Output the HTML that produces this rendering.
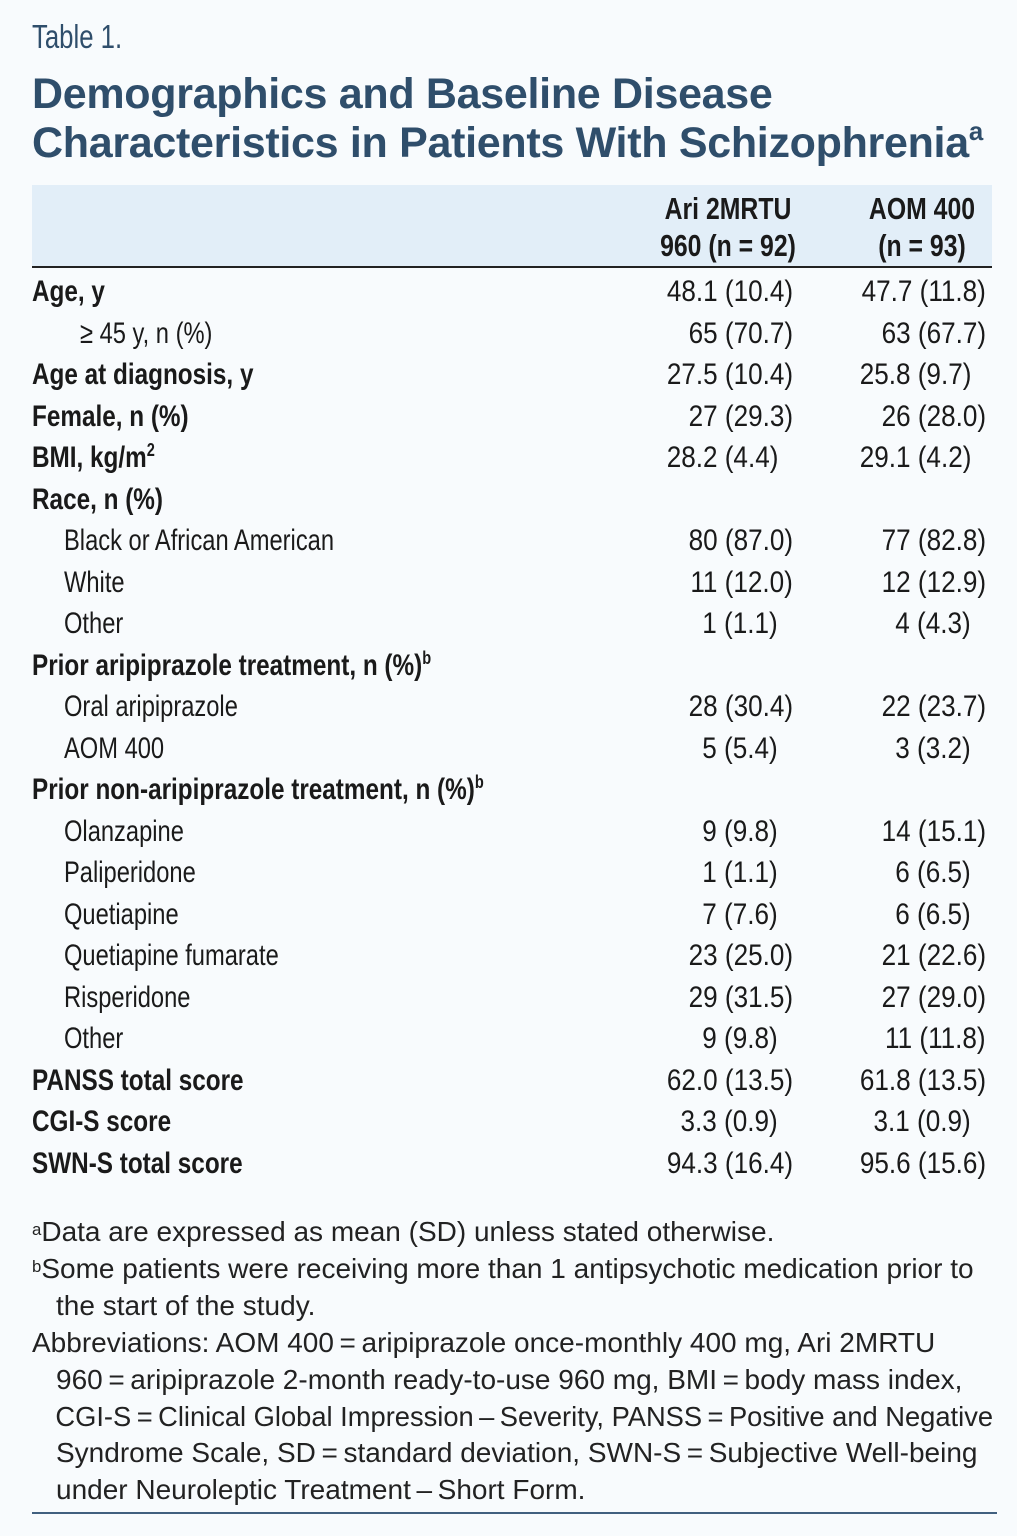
<!DOCTYPE html>
<html><head><meta charset="utf-8"><style>
body{margin:0;width:1017px;height:1536px;background:#f8fbfd;position:relative;overflow:hidden;font-family:"Liberation Sans Narrow","Liberation Sans",sans-serif;color:#1a1a1a}
.a{position:absolute;white-space:nowrap;line-height:1}
.t{font-size:33px;color:#2f4e6b;left:32px;top:20px;transform:scaleX(0.78);transform-origin:left}
.h{font-family:"Liberation Sans",sans-serif;font-weight:bold;font-size:43px;color:#2f4e6b;left:32px;letter-spacing:-0.3px}
.hd{position:absolute;left:32px;top:185px;width:960px;height:81px;background:#e2eef8;border-bottom:2px solid #222}
.ch{font-weight:bold;font-size:31px;text-align:center;width:200px;transform:scaleX(0.8);transform-origin:center}
.lb{font-size:30px;left:32px;font-weight:bold;transform:scaleX(0.81);transform-origin:left}
.in{font-size:30px;left:64px;transform:scaleX(0.79);transform-origin:left}
.v1{font-size:30px;text-align:right;transform:scaleX(0.87);transform-origin:right}
.fn{font-size:28px;color:#222}
.fl{transform-origin:left;white-space:nowrap}
sup{font-size:60%;vertical-align:top;position:relative;top:-2px}
</style></head><body>
<div class="a t">Table 1.</div>
<div class="a h" style="top:73px">Demographics and Baseline Disease</div>
<div class="a h" style="top:122px">Characteristics in Patients With Schizophrenia<sup>a</sup></div>
<div class="hd"></div>
<div class="a ch" style="left:628px;top:190px;line-height:37px">Ari 2MRTU<br>960 (n = 92)</div>
<div class="a ch" style="left:822px;top:190px;line-height:37px">AOM 400<br>(n = 93)</div>
<div id="rows"></div>
<div class="a fn" style="left:32px;top:1214px;line-height:36.9px">
<div class="fl"><sup>a</sup>Data are expressed as mean (SD) unless stated otherwise.</div>
<div class="fl"><sup>b</sup>Some patients were receiving more than 1 antipsychotic medication prior to</div>
<div class="fl" style="padding-left:24px">the start of the study.</div>
<div class="fl">Abbreviations: AOM 400&thinsp;=&thinsp;aripiprazole once-monthly 400 mg, Ari 2MRTU</div>
<div class="fl" style="padding-left:24px">960&thinsp;=&thinsp;aripiprazole 2-month ready-to-use 960 mg, BMI&thinsp;=&thinsp;body mass index,</div>
<div class="fl" style="padding-left:24px;transform:scaleX(0.975)">CGI-S&thinsp;=&thinsp;Clinical Global Impression&thinsp;–&thinsp;Severity, PANSS&thinsp;=&thinsp;Positive and Negative</div>
<div class="fl" style="padding-left:24px">Syndrome Scale, SD&thinsp;=&thinsp;standard deviation, SWN-S&thinsp;=&thinsp;Subjective Well-being</div>
<div class="fl" style="padding-left:24px">under Neuroleptic Treatment&thinsp;–&thinsp;Short Form.</div>
</div>
<div style="position:absolute;left:32px;top:1512px;width:965px;height:2px;background:#41607f"></div>
<script>
const labels=["Age, y","≥ 45 y, n (%)","Age at diagnosis, y","Female, n (%)","BMI, kg/m<sup>2</sup>","Race, n (%)","Black or African American","White","Other","Prior aripiprazole treatment, n (%)<sup>b</sup>","Oral aripiprazole","AOM 400","Prior non-aripiprazole treatment, n (%)<sup>b</sup>","Olanzapine","Paliperidone","Quetiapine","Quetiapine fumarate","Risperidone","Other","PANSS total score","CGI-S score","SWN-S total score"];
const kinds=["b","i2","b","b","b","b","i","i","i","b","i","i","b","i","i","i","i","i","i","b","b","b"];
const col1=["48.1 (10.4)","65 (70.7)","27.5 (10.4)","27 (29.3)","28.2 (4.4)","","80 (87.0)","11 (12.0)","1 (1.1)","","28 (30.4)","5 (5.4)","","9 (9.8)","1 (1.1)","7 (7.6)","23 (25.0)","29 (31.5)","9 (9.8)","62.0 (13.5)","3.3 (0.9)","94.3 (16.4)"];
const col2=["47.7 (11.8)","63 (67.7)","25.8 (9.7)","26 (28.0)","29.1 (4.2)","","77 (82.8)","12 (12.9)","4 (4.3)","","22 (23.7)","3 (3.2)","","14 (15.1)","6 (6.5)","6 (6.5)","21 (22.6)","27 (29.0)","11 (11.8)","61.8 (13.5)","3.1 (0.9)","95.6 (15.6)"];
const rows=document.getElementById('rows');
function rightEdge(v,base){const m=v.match(/\(([\d]+)\./);return (m&&m[1].length===1)?base-15:base;}
labels.forEach((l,i)=>{
 const top=277+i*41.5;
 const d=document.createElement('div');
 d.className='a '+(kinds[i]==='b'?'lb':'in');
 if(kinds[i]==='i2')d.style.left='80px';
 d.style.top=top+'px';d.innerHTML=l;
 
 
 rows.appendChild(d);
 [[col1[i],793],[col2[i],986]].forEach(([v,b],j)=>{
  if(!v)return;
  const e=document.createElement('div');
  e.className='a v1';
  e.style.top=top+'px';
  e.style.right=(1017-rightEdge(v,b))+'px';
  e.textContent=v;
  
  
  rows.appendChild(e);
 });
});
</script>
</body></html>
